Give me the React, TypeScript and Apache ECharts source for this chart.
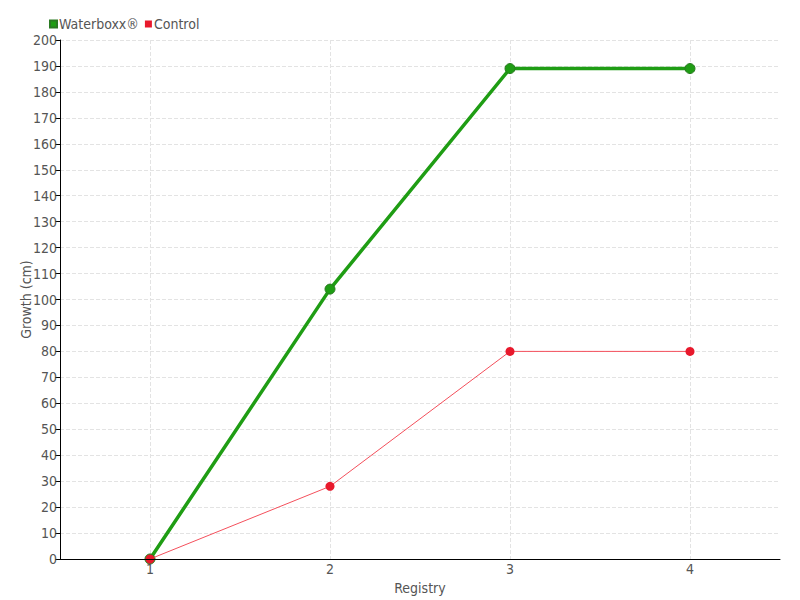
import React, { useEffect, useRef } from "react";
import * as echarts from "echarts";

const categories = ["1", "2", "3", "4"];
const waterboxx = [0, 104, 189, 189];
const control = [0, 28, 80, 80];
const halfSteps = ["0.5", "1", "1.5", "2", "2.5", "3", "3.5", "4", "4.5"];

const FONT = "'DejaVu Sans Condensed', 'Liberation Sans Narrow', 'Roboto', sans-serif";

export default function App() {
  const ref = useRef<HTMLDivElement>(null);
  useEffect(() => {
    if (!ref.current) return;
    const chart = echarts.init(ref.current, undefined, { renderer: "svg" });
    chart.setOption({
      animation: false,
      textStyle: { fontFamily: FONT, color: "#555" },
      legend: {
        left: 44,
        top: 12,
        itemWidth: 7,
        itemHeight: 7,
        itemGap: 6,
        icon: "rect",
        textStyle: { fontFamily: FONT, fontSize: 14, color: "#555", padding: [0, 0, 0, -3] },
        data: ["Waterboxx®", "Control"],
      },
      grid: { left: 60, right: 20, top: 40, bottom: 40 },
      xAxis: [
        {
          type: "category",
          data: categories,
          boundaryGap: true,
          name: "Registry",
          nameLocation: "middle",
          nameGap: 22,
          nameTextStyle: { fontFamily: FONT, fontSize: 14, color: "#555" },
          axisLine: { lineStyle: { color: "#000", width: 1 } },
          axisTick: { alignWithLabel: true, length: 5, lineStyle: { color: "#000" } },
          axisLabel: { fontFamily: FONT, fontSize: 14, color: "#555", margin: 3 },
          splitLine: { show: false },
          z: 5,
        },
        {
          type: "category",
          data: halfSteps,
          boundaryGap: false,
          position: "bottom",
          axisLine: { show: false },
          axisTick: { show: false },
          axisLabel: { show: false },
          splitLine: {
            show: true,
            interval: (i: number) => i % 2 === 1,
            lineStyle: { type: "dashed", color: "#e3e3e3" },
          },
        },
      ],
      yAxis: {
        type: "value",
        min: 0,
        max: 200,
        interval: 10,
        name: "Growth (cm)",
        nameLocation: "middle",
        nameGap: 27,
        nameMoveOverlap: false,
        nameTextStyle: { fontFamily: FONT, fontSize: 14, color: "#555" },
        axisLine: { show: true, lineStyle: { color: "#000", width: 1 } },
        axisTick: { show: true, length: 5, lineStyle: { color: "#000" } },
        axisLabel: { fontFamily: FONT, fontSize: 14, color: "#555", margin: 3 },
        splitLine: { show: true, lineStyle: { type: "dashed", color: "#e3e3e3" } },
      },
      series: [
        {
          name: "Waterboxx®",
          type: "line",
          xAxisIndex: 0,
          data: waterboxx,
          symbol: "circle",
          symbolSize: 10,
          itemStyle: { color: "#1f9d14", borderColor: "#2a7a22", borderWidth: 1 },
          lineStyle: { color: "#1f9d14", width: 3.5 },
          z: 2,
        },
        {
          name: "Control",
          type: "line",
          xAxisIndex: 0,
          data: control,
          symbol: "circle",
          symbolSize: 9,
          itemStyle: { color: "#e8192c" },
          lineStyle: { color: "#f4505c", width: 1 },
          z: 3,
        },
      ],
    });
    return () => chart.dispose();
  }, []);
  return <div ref={ref} style={{ width: 800, height: 600, position: "absolute", left: 0, top: 0 }} />;
}
